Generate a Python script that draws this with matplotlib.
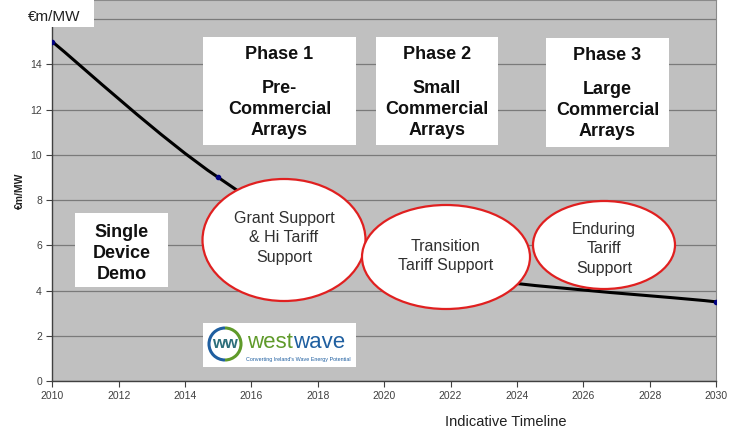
import matplotlib
matplotlib.use("Agg")
import matplotlib.pyplot as plt
from matplotlib.patches import Rectangle, Ellipse, Arc, PathPatch
from matplotlib.path import Path
from matplotlib.text import Annotation
import numpy as np

plt.rcParams['font.family'] = ['Liberation Sans', 'DejaVu Sans']

# data
years = [2010, 2015, 2020, 2030]
cost = [15.0, 9.0, 5.2, 3.5]
x_ticks = list(range(2010, 2031, 2))
y_ticks = list(range(0, 15, 2))

W, H = 740, 432
fig = plt.figure(figsize=(W / 100, H / 100), dpi=100)
fig.patch.set_facecolor("white")

# axes placed in pixels: 2010 at x=52, 2030 at x=716, y=0 at px 381, 22.62 px per unit
ax_l, ax_r, ax_b = 52.3, 716.0, 381.0
ax = fig.add_axes([ax_l / W, (H - ax_b) / H, (ax_r - ax_l) / W, ax_b / H])
ax.set_facecolor("#c0c0c0")
ax.set_xlim(2010, 2030)
ax.set_ylim(0, ax_b / 22.62)

ax.set_xticks(x_ticks)
ax.set_yticks(y_ticks)
ax.tick_params(axis="both", labelsize=7.5, labelcolor="#404040", color="#404040",
               length=4, width=0.8, direction="out")
ax.grid(axis="y", color="#7a7a7a", linewidth=0.9)
ax.axhline(16, color="#7a7a7a", linewidth=0.9, zorder=0.5)
ax.grid(axis="x", visible=False)
ax.set_axisbelow(True)
for s in ["left", "bottom"]:
    ax.spines[s].set_color("#404040")
    ax.spines[s].set_linewidth(1.0)
for s in ["top", "right"]:
    ax.spines[s].set_color("#8a8a8a")
    ax.spines[s].set_linewidth(0.8)

ax.set_ylabel("€m/MW", fontsize=7.5, fontweight="bold", color="#202020", labelpad=4)

# smoothed line (Excel style bezier through the points)
pts = np.column_stack([years, cost])
ext = np.vstack([pts[0], pts, pts[-1]])
verts = [tuple(pts[0])]
codes = [Path.MOVETO]
for i in range(len(pts) - 1):
    p_prev, p0, p1, p_next = ext[i], ext[i + 1], ext[i + 2], ext[i + 3]
    c1 = p0 + (p1 - p_prev) / 6
    c2 = p1 - (p_next - p0) / 6
    verts += [tuple(c1), tuple(c2), tuple(p1)]
    codes += [Path.CURVE4] * 3
ax.add_patch(PathPatch(Path(verts, codes), facecolor="none", edgecolor="black",
                       linewidth=2.2, zorder=3))
ax.plot(years, cost, linestyle="none", marker="o", markersize=3,
        color="#000080", zorder=4)


def fx(x):
    return x / W


def fy(y):
    return 1 - y / H


def box(x0, y0, x1, y1):
    fig.add_artist(Rectangle((fx(x0), fy(y1)), fx(x1) - fx(x0), fy(y0) - fy(y1),
                             transform=fig.transFigure, facecolor="white",
                             edgecolor="none", zorder=5))


def oval(cx, cy, w, h):
    fig.add_artist(Ellipse((fx(cx), fy(cy)), w / W, h / H,
                           transform=fig.transFigure, facecolor="white",
                           edgecolor="#e02020", linewidth=1.6, zorder=5))


# top-left unit label
box(0, 0, 94, 27)
fig.text(fx(28), fy(21), "€m/MW", fontsize=11, color="#202020", zorder=6)

# phase boxes
box(203, 37, 356, 145)
box(376, 37, 498, 145)
box(546, 38, 669, 147)
box(75, 213, 168, 287)
bold = dict(fontsize=13, fontweight="bold", color="#101010", ha="center",
            va="baseline", zorder=6)
phases = [(279.5, 59, "Phase 1", ["Pre-", "Commercial", "Arrays"]),
          (437, 59, "Phase 2", ["Small", "Commercial", "Arrays"]),
          (607.5, 60, "Phase 3", ["Large", "Commercial", "Arrays"])]
for cx, top, title, lines in phases:
    fig.text(fx(cx), fy(top), title, **bold)
    for k, ln in enumerate(lines):
        fig.text(fx(cx), fy(top + 34 + 21 * k), ln, **bold)
for k, ln in enumerate(["Single", "Device", "Demo"]):
    fig.text(fx(121.5), fy(237 + 21 * k), ln, **bold)

# support ovals
oval(284, 240, 163, 122)
oval(446, 257, 168, 104)
oval(604, 245, 142, 88)
reg = dict(fontsize=11.5, color="#303030", ha="center", va="center", zorder=6,
           linespacing=1.4)
fig.text(fx(284), fy(238), "Grant Support\n& Hi Tariff\nSupport", **reg)
fig.text(fx(446), fy(256), "Transition\nTariff Support", **reg)
fig.text(fx(604), fy(249), "Enduring\nTariff\nSupport", **reg)

# westwave logo
box(203, 323, 356, 367)
cx, cy, r = 225, 344, 16
fig.add_artist(Arc((fx(cx), fy(cy)), 2 * r / W, 2 * r / H, theta1=90, theta2=270,
                   transform=fig.transFigure, color="#1f5fa0", linewidth=2.2, zorder=6))
fig.add_artist(Arc((fx(cx), fy(cy)), 2 * r / W, 2 * r / H, theta1=-90, theta2=90,
                   transform=fig.transFigure, color="#5f9a2a", linewidth=2.2, zorder=6))
fig.text(fx(cx), fy(cy), "ww", fontsize=12, fontweight="bold", color="#2d6e7a",
         ha="center", va="center", zorder=7)
west = fig.text(fx(247), fy(342), "west", fontsize=16, color="#5f9a2a",
                va="center", zorder=6)
fig.add_artist(Annotation("wave", xy=(1, 0.5), xycoords=west, va="center",
                          ha="left", fontsize=16, color="#1f5fa0", zorder=6,
                          annotation_clip=False))
fig.text(fx(298), fy(360), "Converting Ireland's Wave Energy Potential",
         fontsize=3.9, color="#1f5fa0", ha="center", va="center", zorder=6)

fig.text(fx(505.5), fy(422), "Indicative Timeline", fontsize=10.5,
         color="#202020", ha="center", va="center")

fig.savefig("out.png", dpi=100)
